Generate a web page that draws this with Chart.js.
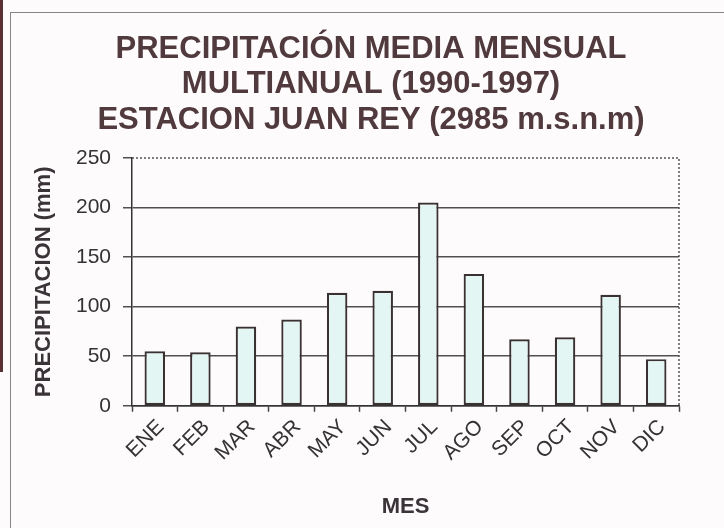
<!DOCTYPE html>
<html>
<head>
<meta charset="utf-8">
<script src="https://cdn.jsdelivr.net/npm/chart.js@4/dist/chart.umd.min.js"></script>
<style>
  html, body { margin: 0; padding: 0; background: #fefbfd; }
  #wrap { position: relative; width: 724px; height: 528px; overflow: hidden; }
  #frame { position: absolute; left: 10px; top: 12px; right: -2px; bottom: -2px;
           border-left: 1.5px solid #8a8488; border-top: 1.5px solid #8a8488; }
  #edge { position: absolute; left: 0; top: 0; width: 3px; height: 372px; background: #5a2f36; }
  canvas { position: absolute; left: 0; top: 0; }
</style>
</head>
<body>
<div id="wrap">
  <div id="edge"></div>
  <div id="frame"></div>
  <canvas id="c" width="724" height="528"></canvas>
</div>
<script>
// Mean monthly rainfall, Juan Rey station, 1990-1997
const months = ["ENE", "FEB", "MAR", "ABR", "MAY", "JUN", "JUL", "AGO", "SEP", "OCT", "NOV", "DIC"];
const precipitation = [55, 54, 80, 87, 114, 116, 205, 133, 67, 69, 112, 47];
const yTicks = [0, 50, 100, 150, 200, 250];
const titleLines = ["PRECIPITACIÓN MEDIA MENSUAL", "MULTIANUAL (1990-1997)", "ESTACION JUAN REY (2985 m.s.n.m)"];

const FONT = "'Liberation Sans', Arial, sans-serif";

// dotted top and right edges of the plot area
const dottedFrame = {
  id: 'dottedFrame',
  afterDatasetsDraw(chart) {
    const { ctx, chartArea: a } = chart;
    ctx.save();
    ctx.strokeStyle = '#555';
    ctx.lineWidth = 1.5;
    ctx.setLineDash([2, 2]);
    ctx.beginPath();
    ctx.moveTo(a.left, a.top);
    ctx.lineTo(a.right, a.top);
    ctx.lineTo(a.right, a.bottom);
    ctx.stroke();
    ctx.restore();
  }
};

new Chart(document.getElementById('c'), {
  type: 'bar',
  data: {
    labels: months,
    datasets: [{
      data: precipitation,
      backgroundColor: '#e3f6f3',
      borderColor: '#3a3232',
      borderWidth: 2.2,
      borderSkipped: false,
      barPercentage: 0.45,
      categoryPercentage: 1.0
    }]
  },
  options: {
    responsive: false,
    animation: false,
    layout: { padding: { left: 18, right: 0, top: 0, bottom: 8 } },
    plugins: {
      legend: { display: false },
      tooltip: { enabled: false },
      title: {
        display: true,
        text: titleLines,
        color: '#503a3e',
        font: { family: FONT, size: 31, weight: 'bold', lineHeight: 1.16 },
        padding: { top: 31, bottom: 19 }
      }
    },
    scales: {
      x: {
        // let the slanted month labels hang past the left edge of the plot
        afterFit(scale) { scale.paddingLeft = 0; scale.paddingRight = 0; },
        grid: {
          offset: true,
          drawOnChartArea: false,
          drawTicks: true,
          tickLength: 6,
          tickColor: '#444',
          tickWidth: 1.5
        },
        border: { display: true, color: '#333', width: 1.5 },
        ticks: {
          color: '#333',
          font: { family: FONT, size: 21 },
          minRotation: 45,
          maxRotation: 45,
          padding: 3,
          labelOffset: 6
        },
        title: {
          display: true,
          text: 'MES',
          color: '#3a3338',
          font: { family: FONT, size: 22, weight: 'bold' },
          padding: { top: 25, bottom: 0 }
        }
      },
      y: {
        min: 0,
        max: 250,
        afterBuildTicks(scale) {
          scale.ticks = yTicks.map(v => ({ value: v }));
        },
        afterFit(scale) { scale.width = 114; },
        grid: {
          color: ctx => (ctx.tick && ctx.tick.value === 250) ? 'rgba(0,0,0,0)' : '#505050',
          lineWidth: 1.5,
          tickLength: 9,
          tickColor: '#505050',
          tickWidth: 1.5
        },
        border: { display: true, color: '#333', width: 1.5 },
        ticks: {
          color: '#333',
          font: { family: FONT, size: 21 },
          padding: 12
        },
        title: {
          display: true,
          text: 'PRECIPITACION (mm)',
          color: '#3a3338',
          font: { family: FONT, size: 22, weight: 'bold' },
          padding: { top: 13, bottom: 20 }
        }
      },
      // blank right-hand margin so the title stays centred on the whole card
      yRight: {
        position: 'right',
        min: 0,
        max: 250,
        afterFit(scale) { scale.width = 45; },
        grid: { drawOnChartArea: false, drawTicks: false },
        border: { display: false },
        ticks: { display: false }
      }
    }
  },
  plugins: [dottedFrame]
});
</script>
</body>
</html>
